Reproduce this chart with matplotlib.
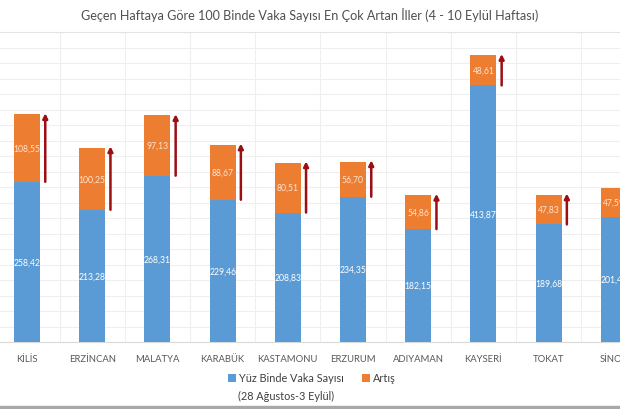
import matplotlib
matplotlib.use("Agg")
from matplotlib import pyplot as plt
from matplotlib.patches import Rectangle
import numpy as np

plt.rcParams['font.family'] = ['Lato', 'DejaVu Sans']

# Data
iller = ['KİLİS', 'ERZİNCAN', 'MALATYA', 'KARABÜK', 'KASTAMONU',
         'ERZURUM', 'ADIYAMAN', 'KAYSERİ', 'TOKAT', 'SİNOP']
onceki_hafta = [258.42, 213.28, 268.31, 229.46, 208.83,
                234.35, 182.15, 413.87, 189.68, 201.41]
artis = [108.55, 100.25, 97.13, 88.67, 80.51,
         56.70, 54.86, 48.61, 47.83, 47.59]

blue = '#5B9BD5'
orange = '#ED7D31'
arrow_red = '#9A0E14'
text_grey = '#595959'

fig = plt.figure(figsize=(6.2, 4.1), dpi=100)
ax = fig.add_axes([0, 1 - 343 / 410, 1, (343 - 33) / 410])

x = np.arange(len(iller))
ax.bar(x, onceki_hafta, width=0.4, color=blue, zorder=3,
       label='Yüz Binde Vaka Sayısı')
ax.bar(x, artis, width=0.4, bottom=onceki_hafta, color=orange, zorder=3,
       label='Artış')

# value labels, centred in each segment
for xi, b, a in zip(x, onceki_hafta, artis):
    ax.text(xi, b / 2, f'{b:.2f}'.replace('.', ','), ha='center', va='center',
            color='white', fontsize=6.2, zorder=4)
    ax.text(xi, b + a / 2, f'{a:.2f}'.replace('.', ','), ha='center', va='center',
            color='#fbe5d6', fontsize=6.2, zorder=4)
    # red arrow next to the bar showing the increase
    ax.annotate('', xy=(xi + 0.28, b + a + 2), xytext=(xi + 0.28, b),
                arrowprops=dict(arrowstyle='-|>', color=arrow_red, lw=1.8,
                                mutation_scale=7, shrinkA=0, shrinkB=0),
                zorder=5, annotation_clip=False)

ax.set_yticks(np.arange(0, 501, 25))
ax.set_xticks(np.arange(-0.5, 9.6, 0.5), minor=True)
ax.set_xticks(x)
ax.set_xticklabels(iller, fontsize=6.8, color=text_grey)
# limits after the ticks, otherwise set_xticks widens them
ax.set_xlim(-0.414, 9.095)
ax.set_ylim(0, 500)
ax.grid(True, which='major', axis='y', color='#efefef', lw=0.8, zorder=0)
ax.grid(True, which='minor', axis='x', color='#efefef', lw=0.8, zorder=0)
ax.tick_params(axis='x', length=0, pad=9)
ax.tick_params(axis='x', which='minor', length=0)
ax.tick_params(axis='y', left=False, labelleft=False)
for side in ['left', 'right']:
    ax.spines[side].set_visible(False)
ax.spines['top'].set_color('#e3e3e3')
ax.spines['bottom'].set_color('#d9d9d9')

fig.text(0.5, 1 - 15 / 410,
         'Geçen Haftaya Göre 100 Binde Vaka Sayısı En Çok Artan İller (4 - 10 Eylül Haftası)',
         ha='center', va='center', fontsize=9.1, color='#505050')

leg = fig.legend(loc='center', bbox_to_anchor=(312 / 620, 1 - 379 / 410), ncol=2,
                 frameon=False, fontsize=7.8, labelcolor='#404040', handlelength=0.7,
                 handleheight=0.7, handletextpad=0.3, columnspacing=1.7,
                 borderpad=0, borderaxespad=0)

# second line of the first legend entry, centred under marker + text
fig.canvas.draw()
hb = leg.legend_handles[0].get_window_extent()
tb = leg.get_texts()[0].get_window_extent()
fig.text((hb.x0 + tb.x1) / 2 / 620, 1 - 396 / 410, '(28 Ağustos-3 Eylül)',
         ha='center', va='center', fontsize=7.8, color='#404040')

# grey strip at the bottom edge of the screenshot
fig.patches.append(Rectangle((0, 0), 1, 3.5 / 410, transform=fig.transFigure,
                             color='#a8a8a8', zorder=0))

fig.savefig('out.png', dpi=100)
